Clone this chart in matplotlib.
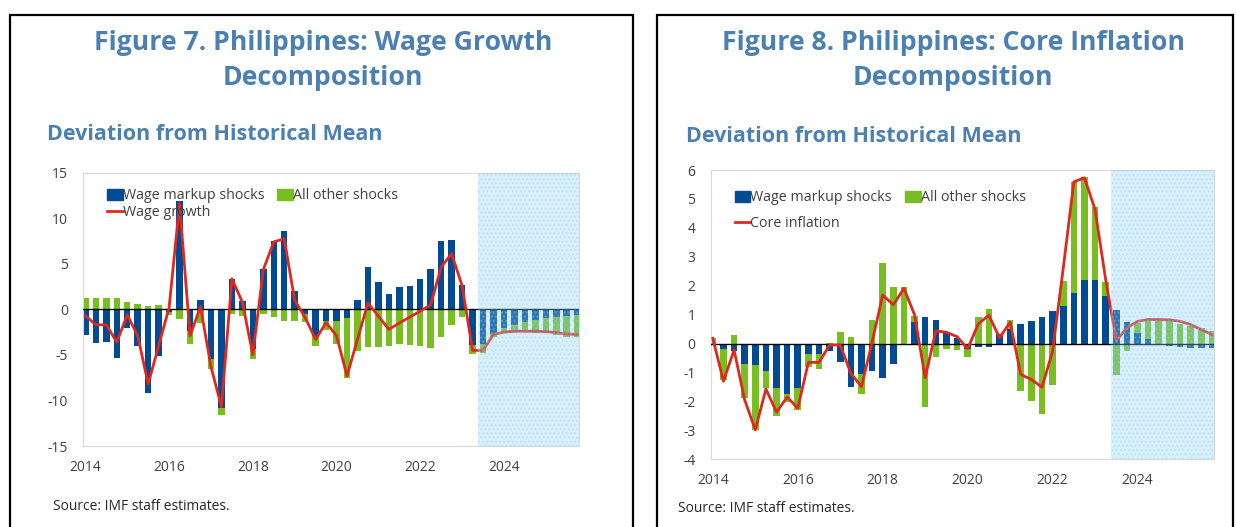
import numpy as np
import matplotlib
matplotlib.use("Agg")
import matplotlib.pyplot as plt
from matplotlib.patches import Rectangle
from matplotlib.lines import Line2D

plt.rcParams['font.family'] = ['Open Sans', 'DejaVu Sans']
plt.rcParams['axes.unicode_minus'] = False

# quarterly, 2014Q1 .. 2025Q4
years = ['2014', '2016', '2018', '2020', '2022', '2024']
n_hist = 38  # 2014Q1..2023Q2 historical, rest projected

# Figure 7: wage growth decomposition
wage_markup_7 = [-2.8, -3.7, -3.55, -5.3, -2.0, -4.05, -9.15, -5.1,
                 -0.3, 11.85, -2.4, 1.0, -5.4, -10.8, 3.35, 0.9,
                 -4.3, 4.4, 7.5, 8.55, 2.0, -0.5, -2.9, -1.3,
                 -1.3, -1.0, 1.05, 4.65, 3.0, 1.65, 2.5, 2.6,
                 3.35, 4.4, 7.45, 7.65, 2.7, -3.95, -3.8, -2.7,
                 -2.1, -1.75, -1.4, -1.15, -1.0, -0.85, -0.75, -0.65]
other_7 = [1.2, 1.3, 1.3, 1.2, 0.85, 0.55, 0.35, 0.5,
           -0.3, -1.1, -1.45, -1.45, -1.2, -0.75, -0.55, -0.7,
           -1.2, -0.55, -0.85, -1.3, -1.3, -0.9, -1.1, -0.95,
           -2.45, -6.5, -4.6, -4.15, -4.15, -4.05, -3.85, -3.95,
           -4.0, -4.25, -3.05, -1.75, -0.85, -0.9, -0.95, -0.35,
           -0.45, -0.75, -1.1, -1.45, -1.65, -2.0, -2.3, -2.4]
wage_growth = [-0.7, -1.7, -1.7, -3.6, -0.6, -2.9, -8.2, -4.0,
               0.2, 11.6, -2.9, 0.3, -6.3, -10.7, 3.35, 0.8,
               -5.0, 4.35, 7.4, 7.75, 1.0, -0.9, -3.3, -1.45,
               -2.9, -7.3, -3.3, 0.7, -0.75, -2.2, -1.5, -0.85,
               -0.2, 0.5, 4.65, 6.1, 2.6, -4.5, -4.5, -2.75,
               -2.5, -2.4, -2.4, -2.4, -2.45, -2.55, -2.7, -2.75]

# Figure 8: core inflation decomposition
wage_markup_8 = [0.0, -0.18, -0.25, -0.71, -0.74, -0.94, -1.52, -1.75,
                 -1.54, -0.37, -0.37, -0.25, -0.65, -1.49, -1.06, -0.94,
                 -1.18, -0.71, -0.05, 0.76, 0.93, 0.81, 0.41, 0.2,
                 -0.18, -0.13, -0.13, 0.33, 0.52, 0.66, 0.79, 0.93,
                 1.12, 1.29, 1.75, 2.21, 2.21, 1.64, 1.15, 0.74,
                 0.37, 0.15, -0.02, -0.09, -0.13, -0.15, -0.17, -0.17]
other_8 = [0.18, -1.07, 0.31, -1.18, -2.24, -0.58, -1.0, -0.28,
           -0.75, -0.43, -0.51, 0.03, 0.39, 0.24, -0.67, 0.82,
           2.78, 1.95, 1.94, 0.21, -2.18, -0.48, -0.2, -0.22,
           -0.29, 0.92, 1.2, -0.05, 0.31, -1.65, -1.99, -2.43,
           -1.44, 0.86, 3.84, 3.55, 2.5, 0.49, -1.09, -0.24,
           0.34, 0.63, 0.77, 0.77, 0.68, 0.6, 0.54, 0.43]
core_inflation = [0.18, -1.3, -0.22, -1.95, -2.98, -1.57, -2.37, -1.85,
                  -2.23, -0.65, -0.65, -0.05, -0.05, -1.03, -1.49, 0.05,
                  1.68, 1.34, 1.91, 0.99, -1.18, 0.44, 0.39, 0.24,
                  -0.18, 0.68, 0.98, 0.2, 0.74, -1.07, -1.24, -1.51,
                  -0.26, 2.6, 5.59, 5.73, 4.63, 2.2, 0.1, 0.54,
                  0.77, 0.83, 0.83, 0.82, 0.77, 0.66, 0.48, 0.31]

BLUE = '#004B93'
GREEN = '#78BE21'
RED = '#E0281E'
TITLE = '#4B80B1'
TXT = '#404040'

W, H = 1236, 527
fig = plt.figure(figsize=(W / 100, H / 100), dpi=100)


def fx(px):
    return px / W


def fy(py):
    return 1 - py / H


def panel(ax, blue, green, line, line_label, ylim, yticks, leg_space, leg_top):
    blue = np.array(blue)
    green = np.array(green)
    x = np.arange(len(blue))
    same = np.sign(blue) == np.sign(green)
    bottom = np.where(same, blue, 0)
    ax.bar(x, blue, width=0.62, color=BLUE, zorder=2)
    ax.bar(x, green, width=0.62, bottom=bottom, color=GREEN, zorder=2)
    ax.axhline(0, color='black', lw=1, zorder=3)
    ax.plot(x, line, color=RED, lw=2.0, zorder=4)
    # projection shading on top
    ax.axvspan(n_hist - 0.5, len(x), facecolor='#8CD3F7', alpha=0.33,
               edgecolor='#8ED0F2', hatch='....', lw=0, zorder=5)
    ax.set_xlim(-0.2, len(x) - 0.8)
    ax.set_ylim(*ylim)
    ax.set_yticks(yticks)
    ax.set_xticks(np.arange(0, 48, 8))
    ax.set_xticklabels(years)
    ax.tick_params(length=0, labelsize=10, colors=TXT, pad=10)
    ax.tick_params(axis='y', pad=11)
    for s in ax.spines.values():
        s.set_color('#D9D9D9')
    handles = [Rectangle((0, 0), 1, 1, color=BLUE),
               Line2D([], [], color=RED, lw=2),
               Rectangle((0, 0), 1, 1, color=GREEN)]
    labels = ['Wage markup shocks', line_label, 'All other shocks']
    ax.legend(handles, labels, ncol=2, loc='upper left',
              bbox_to_anchor=(0.025, leg_top), frameon=False, fontsize=10.3,
              handlelength=1.1, handleheight=0.8, handletextpad=0.0,
              columnspacing=0.9, labelspacing=leg_space, borderpad=0.3,
              labelcolor=TXT)


ax1 = fig.add_axes([fx(83.3), fy(446), fx(496), 273.3 / H])
panel(ax1, wage_markup_7, other_7, wage_growth, 'Wage growth',
      (-15, 15), np.arange(-15, 16, 5), 0.12, 0.985)

ax2 = fig.add_axes([fx(710.7), fy(459.3), fx(503.3), 289.3 / H])
panel(ax2, wage_markup_8, other_8, core_inflation, 'Core inflation',
      (-4, 6), np.arange(-4, 7, 1), 0.75, 0.97)

# panel frames
for x0, x1 in [(10, 633), (657, 1233)]:
    fig.add_artist(Rectangle((fx(x0), -0.05), fx(x1 - x0), fy(15) + 0.05,
                             transform=fig.transFigure, fill=False,
                             edgecolor='black', lw=1.6))

fig.text(fx(323), fy(43), 'Figure 7. Philippines: Wage Growth', ha='center',
         va='center', fontsize=19.2, fontweight='bold', color=TITLE)
fig.text(fx(323), fy(78), 'Decomposition', ha='center', va='center',
         fontsize=19.2, fontweight='bold', color=TITLE)
fig.text(fx(953), fy(43), 'Figure 8. Philippines: Core Inflation', ha='center',
         va='center', fontsize=19.2, fontweight='bold', color=TITLE)
fig.text(fx(953), fy(78), 'Decomposition', ha='center', va='center',
         fontsize=19.2, fontweight='bold', color=TITLE)

fig.text(fx(47), fy(134), 'Deviation from Historical Mean', ha='left',
         va='center', fontsize=15.5, fontweight='bold', color=TITLE)
fig.text(fx(686), fy(136), 'Deviation from Historical Mean', ha='left',
         va='center', fontsize=15.5, fontweight='bold', color=TITLE)

fig.text(fx(53), fy(506), 'Source: IMF staff estimates.', ha='left',
         va='center', fontsize=9.9, color='#262626')
fig.text(fx(678), fy(508), 'Source: IMF staff estimates.', ha='left',
         va='center', fontsize=9.9, color='#262626')

fig.savefig('out.png', dpi=100, facecolor='white')
